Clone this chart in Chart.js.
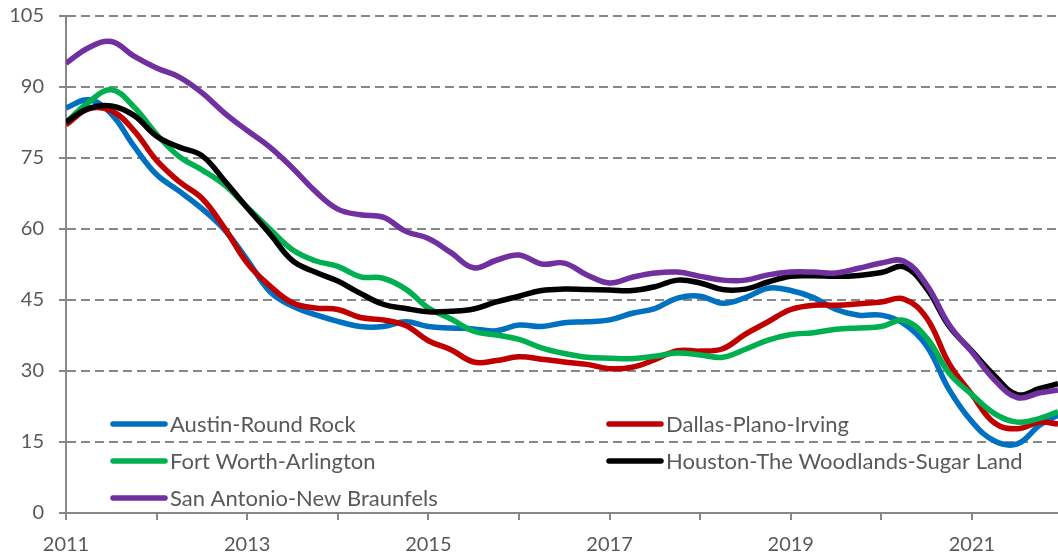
<!DOCTYPE html>
<html><head><meta charset="utf-8">
<script src="https://cdn.jsdelivr.net/npm/chart.js@4.4.0/dist/chart.umd.min.js"></script>
<style>html,body{margin:0;padding:0;background:#fff;overflow:hidden}#wrap{width:1058px;height:559px;position:relative}</style>
</head><body><div id="wrap"><canvas id="c" width="1058" height="559"></canvas></div>
<script>
// x positions (fractional years, quarterly)
const periods = [
  2011.00, 2011.25, 2011.50, 2011.75,
  2012.00, 2012.25, 2012.50, 2012.75,
  2013.00, 2013.25, 2013.50, 2013.75,
  2014.00, 2014.25, 2014.50, 2014.75,
  2015.00, 2015.25, 2015.50, 2015.75,
  2016.00, 2016.25, 2016.50, 2016.75,
  2017.00, 2017.25, 2017.50, 2017.75,
  2018.00, 2018.25, 2018.50, 2018.75,
  2019.00, 2019.25, 2019.50, 2019.75,
  2020.00, 2020.25, 2020.50, 2020.75,
  2021.00, 2021.25, 2021.50, 2021.75,
  2021.95
];
const austin = [
  85.6, 87.3, 84.3, 77.5,
  71.5, 68.0, 64.3, 59.8,
  53.5, 46.8, 43.7, 41.9,
  40.5, 39.4, 39.4, 40.4,
  39.4, 39.1, 38.9, 38.5,
  39.7, 39.4, 40.2, 40.4,
  40.8, 42.2, 43.2, 45.4,
  45.8, 44.3, 45.5, 47.5,
  47.0, 45.5, 43.0, 41.8,
  41.8, 40.0, 35.3, 26.0,
  19.3, 15.2, 14.6, 18.6,
  20.7
];
const dallas = [
  82.0, 85.4, 85.0, 80.8,
  74.5, 70.0, 66.5, 60.2,
  52.8, 48.0, 44.4, 43.3,
  43.0, 41.3, 40.8, 39.6,
  36.4, 34.5, 31.9, 32.2,
  33.0, 32.5, 31.9, 31.4,
  30.5, 30.8, 32.4, 34.3,
  34.2, 34.7, 37.8, 40.4,
  43.0, 43.9, 43.9, 44.2,
  44.6, 45.2, 41.2, 31.5,
  25.0, 19.0, 17.8, 19.2,
  18.8
];
const fortWorth = [
  82.5, 86.8, 89.4, 85.8,
  80.0, 75.3, 72.5, 69.3,
  64.6, 60.0, 55.6, 53.3,
  52.1, 49.9, 49.6, 47.3,
  43.3, 41.0, 38.4, 37.6,
  36.7, 34.9, 33.7, 32.9,
  32.7, 32.6, 33.1, 33.8,
  33.4, 32.9, 34.6, 36.5,
  37.7, 38.1, 38.8, 39.1,
  39.4, 40.7, 37.0, 29.5,
  25.0, 21.0, 19.2, 20.0,
  21.4
];
const houston = [
  82.6, 85.5, 86.0, 84.0,
  79.6, 77.3, 75.5, 70.2,
  64.5, 59.0, 53.3, 50.9,
  49.0, 46.4, 44.1, 43.2,
  42.5, 42.6, 43.1, 44.6,
  45.8, 47.0, 47.3, 47.2,
  47.1, 47.0, 47.8, 49.2,
  48.6, 47.2, 47.3, 48.8,
  50.0, 50.1, 50.0, 50.2,
  50.8, 52.0, 47.4, 39.4,
  34.2, 29.0, 25.0, 26.3,
  27.3
];
const sanAntonio = [
  95.0, 98.3, 99.6, 96.5,
  94.0, 92.1, 88.8, 84.5,
  80.8, 77.3, 72.9, 68.0,
  64.2, 63.0, 62.5, 59.5,
  58.0, 55.0, 51.8, 53.4,
  54.5, 52.6, 52.8, 50.3,
  48.6, 49.8, 50.7, 50.9,
  50.0, 49.2, 49.2, 50.3,
  50.9, 50.9, 50.7, 51.7,
  52.8, 53.2, 48.2, 39.7,
  34.0, 28.1, 24.4, 25.4,
  26.0
];
const seriesNames = ['Austin-Round Rock', 'Dallas-Plano-Irving', 'Fort Worth-Arlington',
  'Houston-The Woodlands-Sugar Land', 'San Antonio-New Braunfels'];
const seriesValues = [austin, dallas, fortWorth, houston, sanAntonio];
const seriesColors = ['#0070C0', '#C00000', '#00B050', '#000000', '#7030A0'];
const labeledYears = [2011, 2013, 2015, 2017, 2019, 2021];
const yTicks = [0, 15, 30, 45, 60, 75, 90, 105];

const FONT = 'Lato, "Liberation Sans", sans-serif';
const TXT = '#595959';
const AX = '#878787';

const legendSlots = [
  {x: 111, y: 424}, {x: 607, y: 424},
  {x: 111, y: 461}, {x: 607, y: 461},
  {x: 111, y: 498}
];

const inLegend = {
  id: 'inLegend',
  afterDatasetsDraw(chart) {
    const ctx = chart.ctx;
    ctx.save();
    chart.data.datasets.forEach((ds, i) => {
      const s = legendSlots[i];
      ctx.strokeStyle = ds.borderColor;
      ctx.lineWidth = 5.5;
      ctx.lineCap = 'round';
      ctx.beginPath();
      ctx.moveTo(s.x + 2, s.y);
      ctx.lineTo(s.x + 54, s.y);
      ctx.stroke();
      ctx.fillStyle = TXT;
      ctx.font = '22px ' + FONT;
      ctx.textBaseline = 'middle';
      ctx.textAlign = 'left';
      ctx.fillText(ds.label, s.x + 59, s.y + 1);
    });
    ctx.restore();
  }
};

const datasets = seriesNames.map((name, i) => ({
  label: name,
  data: periods.map((x, j) => ({x: x, y: seriesValues[i][j]})),
  borderColor: seriesColors[i],
  backgroundColor: seriesColors[i],
  borderWidth: 5.5,
  pointRadius: 0,
  tension: 0.4,
  fill: false,
  order: seriesNames.length - 1 - i
}));

new Chart(document.getElementById('c'), {
  type: 'line',
  data: {datasets},
  options: {
    responsive: false,
    animation: false,
    layout: {padding: {top: 16, right: 0, left: 0, bottom: 0}},
    plugins: {legend: {display: false}, tooltip: {enabled: false}},
    scales: {
      x: {
        type: 'linear',
        min: 2011,
        max: 2021.95,
        afterFit: s => { s.height = 46; s.paddingLeft = 0; s.paddingRight = 0; },
        ticks: {
          stepSize: 1,
          includeBounds: false,
          autoSkip: false,
          maxRotation: 0,
          padding: 13,
          color: TXT,
          font: {family: FONT, size: 20},
          callback: v => labeledYears.includes(v) ? String(v) : ''
        },
        grid: {drawOnChartArea: false, drawTicks: true, tickLength: 7, color: AX, lineWidth: 2},
        border: {display: true, color: AX, width: 2}
      },
      y: {
        min: 0,
        max: 105,
        afterFit: s => { s.width = 66; s.paddingTop = 0; s.paddingBottom = 0; },
        afterBuildTicks: s => { s.ticks = yTicks.map(v => ({value: v})); },
        ticks: {
          padding: 15,
          color: TXT,
          font: {family: FONT, size: 20}
        },
        grid: {color: AX, lineWidth: 2, tickLength: 7, drawTicks: true},
        border: {display: true, color: AX, width: 2, dash: [9, 5]}
      }
    }
  },
  plugins: [inLegend]
});
</script>
</body></html>
